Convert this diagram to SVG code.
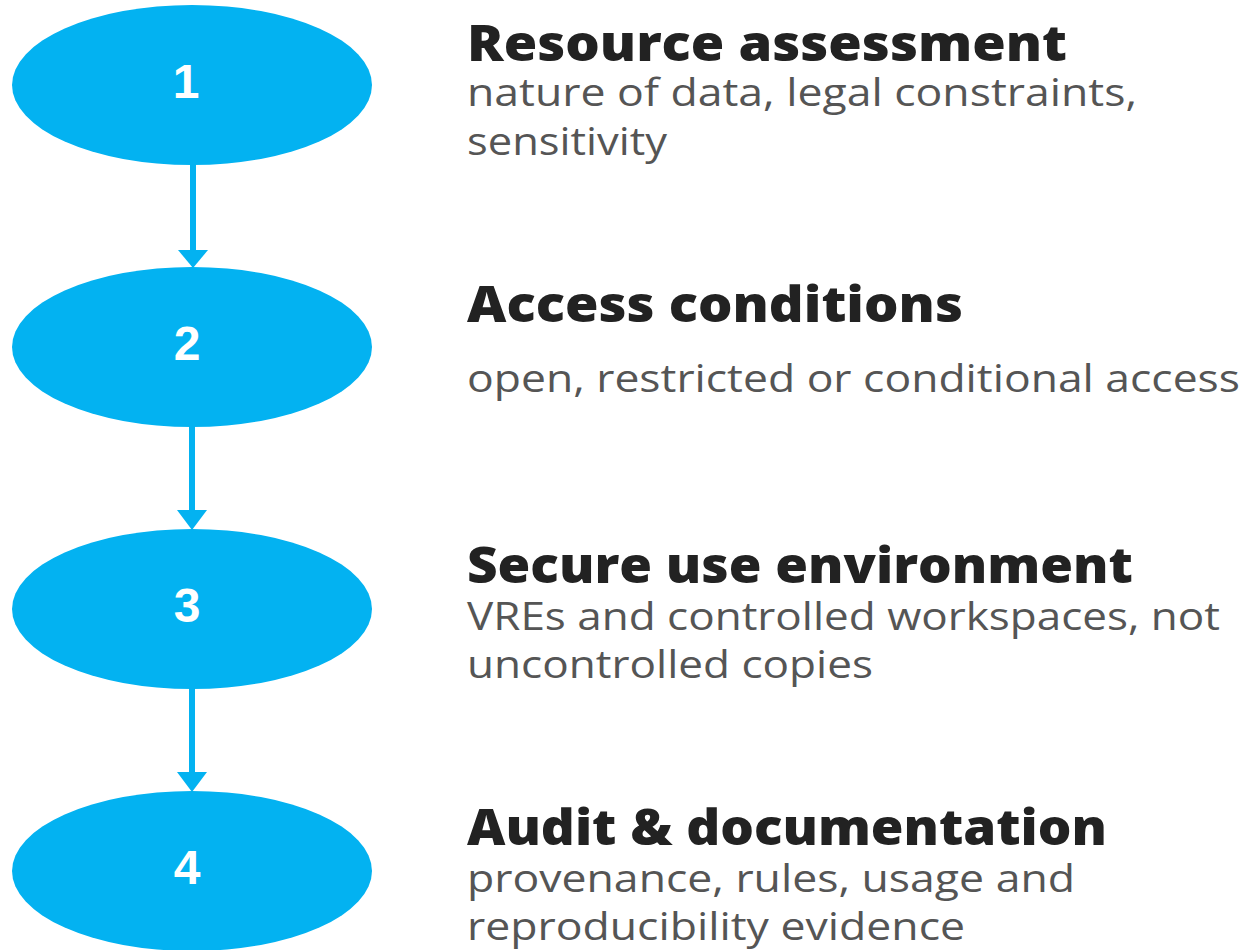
<svg xmlns="http://www.w3.org/2000/svg" width="1245" height="950" viewBox="0 0 1245 950">
<style>
.node{fill:#03B2F1;}
.num{fill:#ffffff;font-family:"Liberation Sans",Arial,sans-serif;font-weight:bold;font-size:48px;text-anchor:middle;}
.h{fill:#222222;font-family:"Open Sans","Inter",sans-serif;font-weight:800;font-size:50px;}
.b{fill:#555555;font-family:"Open Sans","Inter",sans-serif;font-weight:400;font-size:39px;}
.edge{stroke:#03B2F1;stroke-width:6;fill:none;}
.head{fill:#03B2F1;}
</style>
<rect width="1245" height="950" fill="#ffffff"/>
<g id="connectors">
<line class="edge" x1="193" y1="164" x2="193" y2="252"/>
<polygon class="head" points="178,250 208,250 193,268"/>
<line class="edge" x1="192" y1="426" x2="192" y2="512"/>
<polygon class="head" points="177,510 207,510 192,530"/>
<line class="edge" x1="192" y1="687" x2="192" y2="774"/>
<polygon class="head" points="177,772 207,772 192,792"/>
</g>
<g id="node1">
<ellipse class="node" cx="192" cy="85" rx="180" ry="80"/>
<text class="num" x="186" y="98">1</text>
</g>
<g id="node2">
<ellipse class="node" cx="192" cy="347" rx="180" ry="80"/>
<text class="num" x="187" y="360">2</text>
</g>
<g id="node3">
<ellipse class="node" cx="192" cy="609" rx="180" ry="80"/>
<text class="num" x="187" y="622">3</text>
</g>
<g id="node4">
<ellipse class="node" cx="192" cy="871" rx="180" ry="80"/>
<text class="num" x="187" y="884">4</text>
</g>
<g id="label1">
<text class="h" x="467" y="61" textLength="600" lengthAdjust="spacingAndGlyphs">Resource assessment</text>
<text class="b" x="467" y="106" textLength="670" lengthAdjust="spacingAndGlyphs">nature of data, legal constraints,</text>
<text class="b" x="467" y="155" textLength="200" lengthAdjust="spacingAndGlyphs">sensitivity</text>
</g>
<g id="label2">
<text class="h" x="467" y="322" textLength="496" lengthAdjust="spacingAndGlyphs">Access conditions</text>
<text class="b" x="467" y="392" textLength="773" lengthAdjust="spacingAndGlyphs">open, restricted or conditional access</text>
</g>
<g id="label3">
<text class="h" x="467" y="583" textLength="666" lengthAdjust="spacingAndGlyphs">Secure use environment</text>
<text class="b" x="467" y="630" textLength="753" lengthAdjust="spacingAndGlyphs">VREs and controlled workspaces, not</text>
<text class="b" x="467" y="678" textLength="406" lengthAdjust="spacingAndGlyphs">uncontrolled copies</text>
</g>
<g id="label4">
<text class="h" x="467" y="845" textLength="640" lengthAdjust="spacingAndGlyphs">Audit &amp; documentation</text>
<text class="b" x="467" y="892" textLength="608" lengthAdjust="spacingAndGlyphs">provenance, rules, usage and</text>
<text class="b" x="467" y="940" textLength="498" lengthAdjust="spacingAndGlyphs">reproducibility evidence</text>
</g>
</svg>
